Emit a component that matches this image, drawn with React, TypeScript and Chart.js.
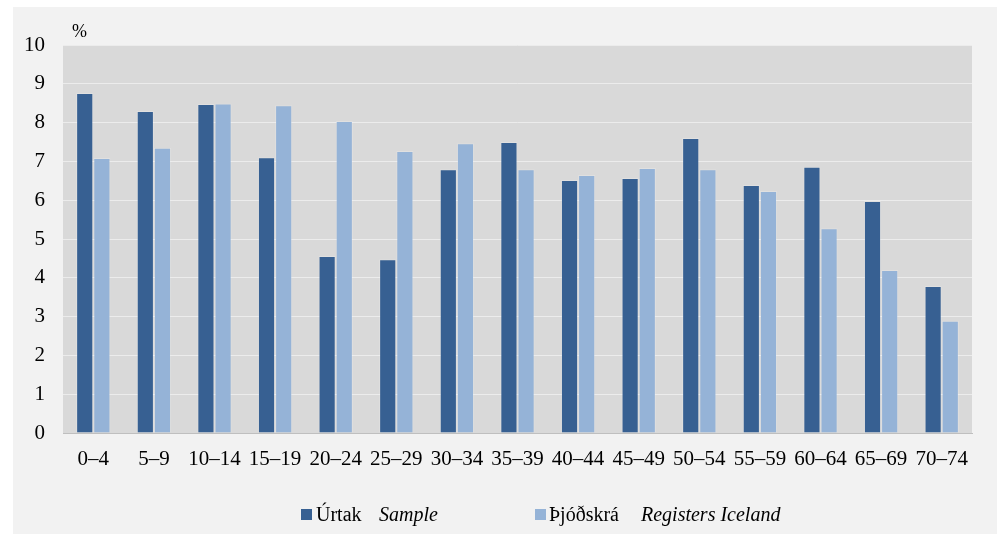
import React, { useEffect, useRef } from "react";
import { Chart, registerables } from "chart.js";

Chart.register(...registerables);

const categories = ["0–4", "5–9", "10–14", "15–19", "20–24", "25–29", "30–34", "35–39", "40–44", "45–49", "50–54", "55–59", "60–64", "65–69", "70–74"];
const sampleValues = [8.76, 8.3, 8.48, 7.11, 4.56, 4.48, 6.8, 7.5, 6.52, 6.57, 7.6, 6.39, 6.86, 5.98, 3.79];
const registerValues = [7.09, 7.35, 8.49, 8.45, 8.04, 7.27, 7.47, 6.8, 6.65, 6.83, 6.8, 6.24, 5.28, 4.2, 2.89];
const seriesNames = ["Úrtak", "Þjóðskrá"];
const seriesNamesEn = ["Sample", "Registers Iceland"];
const yUnit = "%";

const DARK = "#376092";
const LIGHT = "#95b3d7";
const FONT = '"Liberation Serif", "Times New Roman", serif';

export default function App() {
  const ref = useRef<HTMLCanvasElement>(null);
  useEffect(() => {
    document.body.style.margin = "0";
    const bgPlugin = {
      id: "bg",
      beforeDraw(chart: any) {
        const ctx = chart.ctx;
        ctx.save();
        ctx.fillStyle = "#ffffff";
        ctx.fillRect(0, 0, chart.width, chart.height);
        ctx.fillStyle = "#f2f2f2";
        ctx.fillRect(13, 7, 984, 527);
        const a = chart.chartArea;
        ctx.fillStyle = "#d9d9d9";
        ctx.fillRect(a.left, a.top, a.right - a.left, a.bottom - a.top);
        ctx.restore();
      },
      afterDraw(chart: any) {
        const ctx = chart.ctx;
        ctx.save();
        ctx.fillStyle = "#000";
        ctx.textBaseline = "alphabetic";
        ctx.font = `18px ${FONT}`;
        ctx.fillText(yUnit, 72, 37);
        ctx.font = `20px ${FONT}`;
        ctx.fillStyle = DARK;
        ctx.fillRect(301, 509, 11, 11);
        ctx.fillStyle = LIGHT;
        ctx.fillRect(535, 509, 11, 11);
        ctx.fillStyle = "#000";
        ctx.fillText(seriesNames[0], 316, 521);
        ctx.fillText(seriesNames[1], 549, 521);
        ctx.font = `italic 20px ${FONT}`;
        ctx.fillText(seriesNamesEn[0], 379, 521);
        ctx.fillText(seriesNamesEn[1], 641, 521);
        ctx.restore();
      },
    };
    const chart = new Chart(ref.current!, {
      type: "bar",
      data: {
        labels: categories,
        datasets: [
          { label: seriesNames[0], data: sampleValues, backgroundColor: DARK, borderColor: "rgba(255,255,255,0.18)", borderWidth: 1 },
          { label: seriesNames[1], data: registerValues, backgroundColor: LIGHT, borderColor: "rgba(255,255,255,0.18)", borderWidth: 1 },
        ],
      },
      options: {
        responsive: false,
        animation: false,
        layout: { padding: { left: 0, top: 45, right: 30, bottom: 0 } },
        plugins: { legend: { display: false }, tooltip: { enabled: false } },
        datasets: { bar: { categoryPercentage: 0.566, barPercentage: 1 } },
        scales: {
          x: {
            grid: { display: false, drawTicks: false },
            border: { display: true, color: "#bfbfbf", width: 1 },
            ticks: { color: "#000", font: { family: FONT, size: 21 }, padding: 14, maxRotation: 0, autoSkip: false },
            afterFit(scale: any) { scale.height = 101; },
          },
          y: {
            min: 0,
            max: 10,
            grid: { color: "#ececec", lineWidth: 1, drawTicks: false },
            border: { display: false },
            ticks: { stepSize: 1, color: "#000", font: { family: FONT, size: 21 }, padding: 18 },
            afterFit(scale: any) { scale.width = 63; },
          },
        },
      },
      plugins: [bgPlugin],
    });
    return () => chart.destroy();
  }, []);
  return (
    <div style={{ position: "fixed", left: 0, top: 0, width: 1002, height: 534 }}>
      <canvas ref={ref} width={1002} height={534} style={{ display: "block" }} />
    </div>
  );
}
